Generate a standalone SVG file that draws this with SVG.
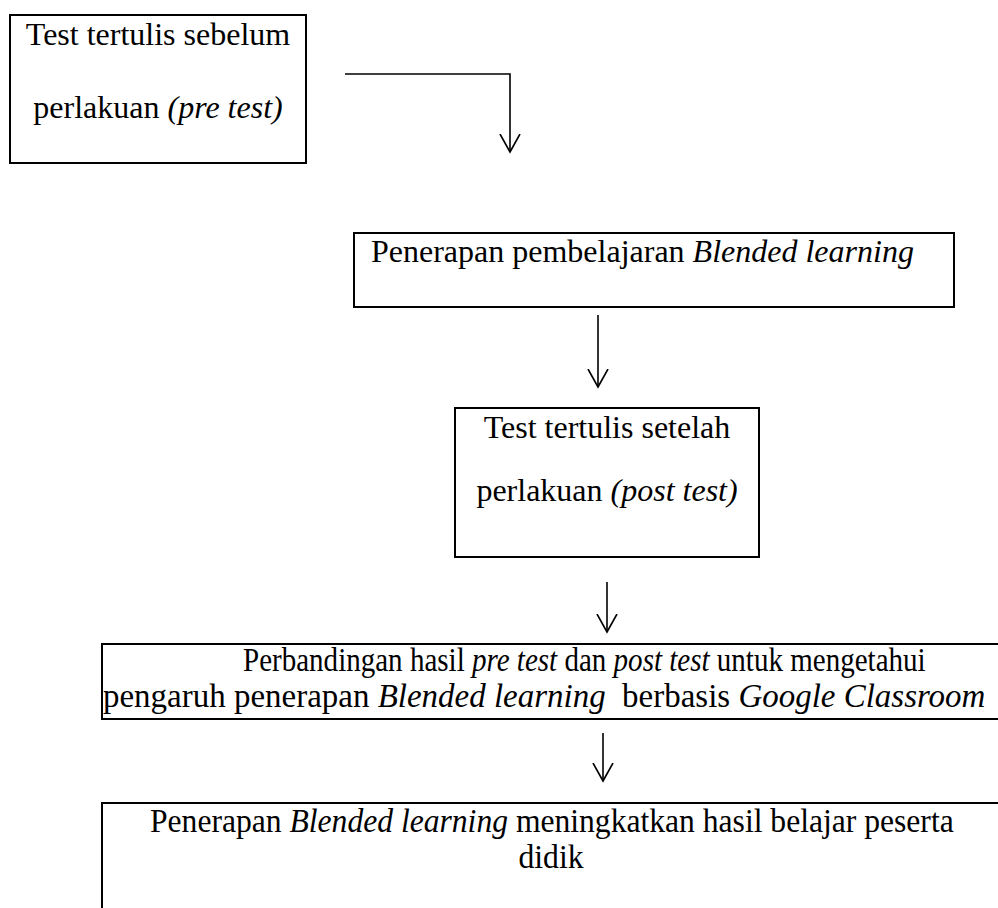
<svg xmlns="http://www.w3.org/2000/svg" width="998" height="908" viewBox="0 0 998 908">
<style>
.box{fill:none;stroke:#000;stroke-width:2}
.t{font-family:"Liberation Serif","Times New Roman",serif;font-size:32px;fill:#000}
.n{font-size:34px}
.k{font-size:33px}
.m{text-anchor:middle}
.i{font-style:italic}
.c{stroke:#000;stroke-width:1.6;fill:none}
</style>
<defs>
<marker id="v" markerUnits="userSpaceOnUse" viewBox="0 0 20 22" markerWidth="20" markerHeight="22" refX="18" refY="11" orient="auto">
<path d="M0,1 L18,11 L0,21" fill="none" stroke="#000" stroke-width="1.6"/>
</marker>
</defs>
<rect width="998" height="908" fill="#fff"/>
<g id="connectors">
<path class="c" d="M345,74 H510 V152" marker-end="url(#v)"/>
<path class="c" d="M598,315 V387" marker-end="url(#v)"/>
<path class="c" d="M607,582 V632" marker-end="url(#v)"/>
<path class="c" d="M603,733 V781" marker-end="url(#v)"/>
</g>
<g id="pretest">
<rect class="box" x="10" y="15" width="296" height="148"/>
<text class="t m" x="158" y="45">Test tertulis sebelum</text>
<text class="t m" x="158" y="118">perlakuan <tspan class="i">(pre test)</tspan></text>
</g>
<g id="penerapan">
<rect class="box" x="354" y="233" width="600" height="74"/>
<text class="t" x="371" y="262">Penerapan pembelajaran <tspan class="i">Blended learning</tspan></text>
</g>
<g id="posttest">
<rect class="box" x="455" y="408" width="304" height="149"/>
<text class="t m" x="607" y="438">Test tertulis setelah</text>
<text class="t m" x="607" y="501">perlakuan <tspan class="i">(post test)</tspan></text>
</g>
<g id="perbandingan">
<rect class="box" x="102" y="644" width="910" height="75"/>
<text class="t n" transform="translate(243,671) scale(0.854,1)">Perbandingan hasil <tspan class="i">pre test</tspan> dan <tspan class="i">post test</tspan> untuk mengetahui</text>
<text class="t n" transform="translate(103,707) scale(0.97,1)" xml:space="preserve">pengaruh penerapan <tspan class="i">Blended learning</tspan>  berbasis <tspan class="i">Google Classroom</tspan></text>
</g>
<g id="kesimpulan">
<rect class="box" x="102" y="803" width="910" height="200"/>
<text class="t k" transform="translate(150,832) scale(0.958,1)">Penerapan <tspan class="i">Blended learning</tspan> meningkatkan hasil belajar peserta</text>
<text class="t k m" transform="translate(551,868) scale(0.958,1)">didik</text>
</g>
</svg>
